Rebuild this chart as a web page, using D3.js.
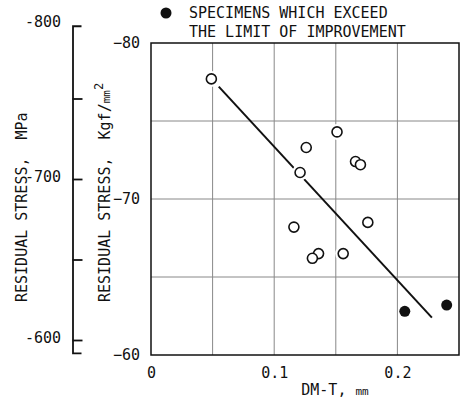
<!DOCTYPE html>
<html>
<head>
<meta charset="utf-8">
<script src="https://cdn.jsdelivr.net/npm/d3@7"></script>
<style>
  body { margin: 0; background: #fff; }
  text, tspan { font-family: 'DejaVu Sans Mono', monospace; fill: #111; white-space: pre; }
</style>
</head>
<body>
<svg id="chart"></svg>
<script>
// data (x: DM-T in mm, y: residual stress in kgf/mm2)
const openX = [0.049, 0.151, 0.126, 0.121, 0.166, 0.170, 0.176, 0.116, 0.136, 0.131, 0.156]
const openY = [-77.7, -74.3, -73.3, -71.7, -72.4, -72.2, -68.5, -68.2, -66.5, -66.2, -66.5]
const filledX = [0.206, 0.240]
const filledY = [-62.8, -63.2]
const fitX = [0.055, 0.228]
const fitY = [-77.2, -62.4]
const xTicks = [0, 0.1, 0.2]
const xGrid = [0.05, 0.1, 0.15, 0.2]
const yTicks = [-80, -70, -60]
const yGrid = [-75, -70, -65]
const mpaTicks = [-750, -700, -650, -600]
const mpaLabels = [-800, -700, -600]

const width = 466
const height = 401
const plot = { left: 151, right: 459, top: 43, bottom: 355 }

const svg = d3.select('#chart')
  .attr('width', width)
  .attr('height', height)

const x = d3.scaleLinear().domain([0, 0.25]).range([plot.left, plot.right])
const y = d3.scaleLinear().domain([-80, -60]).range([plot.top, plot.bottom])
// MPa scale as drawn in the figure (slightly offset from the kgf one)
const yM = d3.scaleLinear().domain([-800, -600]).range([18, 340])

// grid
svg.append('g')
  .selectAll('line')
  .data(xGrid)
  .join('line')
  .attr('x1', d => x(d)).attr('x2', d => x(d))
  .attr('y1', plot.top).attr('y2', plot.bottom)
  .attr('stroke', '#888').attr('stroke-width', 1)

svg.append('g')
  .selectAll('line')
  .data(yGrid)
  .join('line')
  .attr('x1', plot.left).attr('x2', plot.right)
  .attr('y1', d => y(d)).attr('y2', d => y(d))
  .attr('stroke', '#888').attr('stroke-width', 1)

// fit line
svg.append('line')
  .attr('x1', x(fitX[0])).attr('y1', y(fitY[0]))
  .attr('x2', x(fitX[1])).attr('y2', y(fitY[1]))
  .attr('stroke', '#111').attr('stroke-width', 2)

// frame
svg.append('rect')
  .attr('x', plot.left).attr('y', plot.top)
  .attr('width', plot.right - plot.left).attr('height', plot.bottom - plot.top)
  .attr('fill', 'none').attr('stroke', '#111').attr('stroke-width', 1.5)

// open circles, with a white halo that breaks the line and grid
const open = openX.map((d, i) => ({ x: d, y: openY[i] }))
svg.append('g')
  .selectAll('circle')
  .data(open)
  .join('circle')
  .attr('cx', d => x(d.x)).attr('cy', d => y(d.y))
  .attr('r', 8).attr('fill', '#fff')
svg.append('g')
  .selectAll('circle')
  .data(open)
  .join('circle')
  .attr('cx', d => x(d.x)).attr('cy', d => y(d.y))
  .attr('r', 5).attr('fill', '#fff')
  .attr('stroke', '#111').attr('stroke-width', 1.6)

// filled circles
svg.append('g')
  .selectAll('circle')
  .data(filledX.map((d, i) => ({ x: d, y: filledY[i] })))
  .join('circle')
  .attr('cx', d => x(d.x)).attr('cy', d => y(d.y))
  .attr('r', 5.5).attr('fill', '#111')

// x axis labels
const xAxis = svg.append('g')
  .attr('transform', `translate(0,${plot.bottom})`)
  .call(d3.axisBottom(x).tickValues(xTicks).tickSize(0).tickPadding(12)
    .tickFormat(d => d === 0 ? '0' : d3.format('.1f')(d)))
xAxis.select('.domain').remove()
xAxis.selectAll('text').style('font-size', '15px').attr('fill', '#111')

const xTitle = svg.append('text')
  .attr('x', 335).attr('y', 395)
  .attr('text-anchor', 'middle')
  .style('font-size', '15px')
xTitle.append('tspan').text('DM-T, ')
xTitle.append('tspan').style('font-size', '11px').text('mm')

// kgf axis labels
const yAxis = svg.append('g')
  .attr('transform', `translate(${plot.left},0)`)
  .call(d3.axisLeft(y).tickValues(yTicks).tickSize(0).tickPadding(11))
yAxis.select('.domain').remove()
yAxis.selectAll('text').style('font-size', '15px').attr('fill', '#111')

const kTitle = svg.append('text')
  .attr('transform', 'translate(110,302) rotate(-90)')
  .style('font-size', '15px')
kTitle.append('tspan').text('RESIDUAL STRESS,  Kgf/')
kTitle.append('tspan').style('font-size', '11px').text('mm')
kTitle.append('tspan').attr('dy', -7).style('font-size', '12px').text('2')

// MPa axis: bracket with ticks on the right
const mAxis = svg.append('g')
  .attr('transform', 'translate(72.5,0)')
  .call(d3.axisRight(yM.copy().domain([-795.2, -592]).range([yM(-795.2), yM(-592)]))
    .tickValues(mpaTicks).tickFormat('').tickSize(10).tickSizeOuter(9))
mAxis.selectAll('path, line').attr('stroke', '#111').attr('stroke-width', 1.8)

svg.append('g')
  .selectAll('text')
  .data(mpaLabels)
  .join('text')
  .attr('x', 61).attr('y', d => yM(d) + (d === -800 ? 4 : -2))
  .attr('text-anchor', 'end')
  .attr('dominant-baseline', 'central')
  .style('font-size', '15px')
  .text(d => d)

svg.append('text')
  .attr('transform', 'translate(27,302) rotate(-90)')
  .style('font-size', '15px')
  .text('RESIDUAL STRESS,  MPa')

// legend
svg.append('circle')
  .attr('cx', 166).attr('cy', 13).attr('r', 5.5).attr('fill', '#111')
svg.append('text')
  .attr('x', 189).attr('y', 18)
  .style('font-size', '15px')
  .text('SPECIMENS WHICH EXCEED')
svg.append('text')
  .attr('x', 189).attr('y', 37)
  .style('font-size', '15px')
  .text('THE LIMIT OF IMPROVEMENT')
</script>
</body>
</html>
